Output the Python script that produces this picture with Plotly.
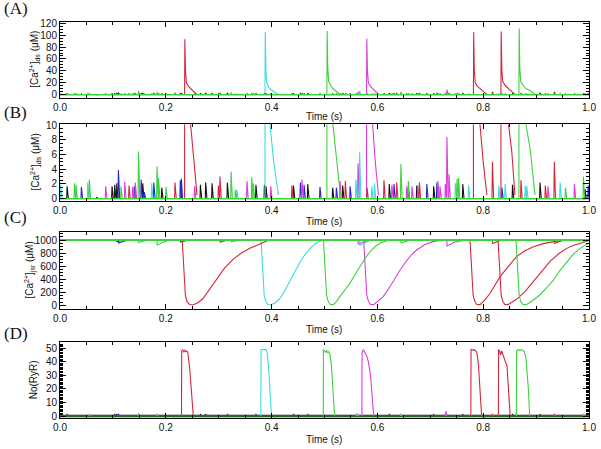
import plotly.graph_objects as go

# ---------------- data ----------------
COLORS = {"black": "#141414", "blue": "#2828c8", "red": "#d2283a",
          "cyan": "#3cdcdc", "magenta": "#dc3cdc", "green": "#3cd23c"}
DRAW_ORDER = ["black", "blue", "magenta", "cyan", "red", "green"]

# ---- big release events (sparks) ----
spark_colors = ["red", "cyan", "green", "magenta", "red", "red", "green"]

# (A)/(B) dyadic-space [Ca2+] (uM) for each spark
ds_spark_t = [
    [0.2355, 0.2360, 0.2372, 0.2390, 0.2430, 0.2470, 0.2530, 0.2590],
    [0.3875, 0.3880, 0.3892, 0.3910, 0.3940, 0.3970, 0.4040, 0.4130],
    [0.5045, 0.5050, 0.5062, 0.5080, 0.5120, 0.5160, 0.5230, 0.5300],
    [0.5795, 0.5800, 0.5812, 0.5830, 0.5870, 0.5910, 0.5960, 0.6020],
    [0.7815, 0.7820, 0.7832, 0.7850, 0.7890, 0.7940, 0.8000, 0.8070],
    [0.8335, 0.8340, 0.8352, 0.8370, 0.8420, 0.8480, 0.8540, 0.8600],
    [0.8675, 0.8680, 0.8692, 0.8710, 0.8760, 0.8810, 0.8890, 0.8980],
]
ds_spark_v = [
    [0, 93, 40, 20, 14, 10, 5.0, 0.5],
    [0, 105, 42, 20, 14, 10, 5.0, 0.5],
    [0, 107, 45, 22, 15, 10, 5.3, 0.5],
    [0, 94, 40, 20, 14, 10, 5.0, 0.5],
    [0, 105, 42, 20, 14, 10, 5.0, 0.5],
    [0, 106, 42, 22, 15, 10, 6.4, 0.5],
    [0, 111, 45, 22, 15, 10, 6.6, 0.5],
]

# (C) junctional SR [Ca2+] (uM) for each spark
jsr_spark_t = [
    [0.231, 0.233, 0.235, 0.237, 0.240, 0.245, 0.252, 0.260, 0.270, 0.283, 0.296, 0.311, 0.327, 0.343, 0.359, 0.376, 0.392],
    [0.380, 0.382, 0.384, 0.386, 0.389, 0.393, 0.399, 0.407, 0.415, 0.422, 0.432, 0.443, 0.454, 0.465, 0.476, 0.487, 0.497],
    [0.498, 0.500, 0.502, 0.504, 0.507, 0.511, 0.517, 0.523, 0.529, 0.538, 0.548, 0.557, 0.567, 0.576, 0.586, 0.596, 0.605, 0.620],
    [0.574, 0.576, 0.578, 0.580, 0.583, 0.587, 0.593, 0.601, 0.611, 0.621, 0.632, 0.643, 0.653, 0.664, 0.674, 0.690, 0.705, 0.720],
    [0.775, 0.777, 0.779, 0.781, 0.784, 0.788, 0.794, 0.803, 0.813, 0.822, 0.832, 0.848, 0.863, 0.879, 0.895, 0.914, 0.933, 0.955],
    [0.828, 0.830, 0.832, 0.834, 0.837, 0.841, 0.847, 0.855, 0.863, 0.879, 0.895, 0.910, 0.926, 0.942, 0.958, 0.971, 0.983, 0.998],
    [0.862, 0.864, 0.866, 0.868, 0.871, 0.875, 0.881, 0.890, 0.898, 0.907, 0.920, 0.933, 0.945, 0.958, 0.970, 0.983, 0.996, 1.000],
]
jsr_spark_v = [
    [1000, 700, 350, 150, 60, 12, 8, 35, 100, 250, 413, 570, 704, 800, 872, 935, 990],
    [1000, 700, 350, 150, 60, 12, 8, 40, 100, 184, 330, 500, 668, 800, 900, 965, 995],
    [1000, 700, 350, 150, 60, 12, 10, 60, 133, 230, 337, 460, 592, 710, 820, 900, 950, 995],
    [1000, 700, 350, 150, 60, 12, 10, 60, 133, 250, 400, 541, 660, 770, 847, 930, 975, 998],
    [1000, 700, 350, 150, 60, 12, 10, 80, 184, 300, 439, 600, 745, 835, 898, 945, 975, 997],
    [1000, 700, 350, 150, 60, 12, 10, 45, 92, 210, 362, 515, 668, 785, 872, 920, 949, 985],
    [1000, 700, 350, 150, 60, 12, 10, 50, 100, 158, 270, 388, 530, 668, 780, 872, 939, 955],
]

# (D) number of open RyRs for each spark
ryr_spark_t = [
    [0.2297, 0.2300, 0.2320, 0.2340, 0.2360, 0.2380, 0.2400, 0.2415, 0.2450, 0.2490, 0.2520],
    [0.3797, 0.3800, 0.3830, 0.3860, 0.3890, 0.3910, 0.3940, 0.3970, 0.4000],
    [0.4977, 0.4980, 0.5000, 0.5020, 0.5040, 0.5060, 0.5080, 0.5100, 0.5130, 0.5160, 0.5190],
    [0.5707, 0.5710, 0.5730, 0.5750, 0.5770, 0.5800, 0.5830, 0.5870, 0.5900, 0.5930],
    [0.7767, 0.7770, 0.7790, 0.7810, 0.7830, 0.7850, 0.7880, 0.7910, 0.7940, 0.7970],
    [0.8287, 0.8290, 0.8310, 0.8330, 0.8350, 0.8380, 0.8420, 0.8450, 0.8480, 0.8510],
    [0.8627, 0.8630, 0.8660, 0.8690, 0.8720, 0.8750, 0.8780, 0.8810, 0.8850, 0.8880],
]
ryr_spark_v = [
    [0, 48, 49, 47, 48.5, 47.5, 48, 47, 36, 16, 0],
    [0, 49, 49, 49, 49, 48, 38, 18, 0],
    [0, 49, 48, 47, 48.5, 46.5, 47.5, 46, 38, 20, 0],
    [0, 47, 49, 48, 46.5, 44, 40, 30, 15, 0],
    [0, 49, 49, 48.5, 49, 48, 47, 38, 18, 0],
    [0, 49, 48, 45, 48, 44, 40, 37, 18, 0],
    [0, 48, 49, 48.5, 49, 48, 47.5, 42, 22, 0],
]

# ---- small release events (blips) in [Ca2+]ds: time (s) and height (uM) ----
blip_t_black = [0.013, 0.069, 0.098, 0.103, 0.107, 0.156, 0.192, 0.265, 0.275, 0.287, 0.316, 0.370, 0.386,
                0.389, 0.441, 0.468, 0.515, 0.534, 0.622, 0.658, 0.674, 0.706, 0.761, 0.855, 0.907, 0.992]
blip_h_black = [1.7, 0.2, 1.7, 1.9, 2.1, 2.1, 1.5, 1.9, 2.2, 2.1, 2.2, 1.9, 1.9,
                1.7, 1.8, 2.0, 1.5, 1.8, 2.0, 1.5, 1.8, 1.7, 2.0, 1.9, 2.2, 1.3]
blip_t_blue = [0.040, 0.110, 0.140, 0.153, 0.159, 0.177, 0.227, 0.229, 0.454, 0.461, 0.491, 0.522,
               0.548, 0.631, 0.693, 0.712, 0.835, 0.998]
blip_h_blue = [1.6, 3.9, 1.7, 2.6, 0.9, 2.2, 2.5, 2.7, 2.2, 1.9, 1.6, 1.5,
               1.7, 2.0, 2.0, 2.2, 1.5, 1.8]
blip_t_red = [0.130, 0.217, 0.299, 0.302, 0.438, 0.539, 0.580, 0.612, 0.636, 0.679, 0.817, 0.871, 0.917, 0.934]
blip_h_red = [1.8, 2.2, 1.8, 3.0, 1.8, 2.4, 1.5, 2.5, 2.2, 2.2, 5.0, 2.5, 1.8, 5.0]
blip_t_cyan = [0.001, 0.052, 0.173, 0.334, 0.559, 0.566, 0.589, 0.594, 0.747, 0.772, 0.829, 0.841,
               0.879, 0.882, 0.945]
blip_h_cyan = [1.9, 2.2, 2.1, 1.2, 2.6, 6.3, 1.7, 2.1, 2.1, 1.8, 1.8, 2.0, 1.8, 1.7, 2.2]
blip_t_magenta = [0.086, 0.122, 0.137, 0.142, 0.254, 0.353, 0.398, 0.457, 0.529, 0.563, 0.627, 0.655,
                  0.665, 0.676, 0.714, 0.718, 0.728, 0.731, 0.735, 0.922, 0.972]
blip_h_magenta = [1.7, 2.3, 1.6, 2.2, 1.7, 2.4, 1.7, 2.6, 2.4, 4.8, 1.9, 1.7,
                  1.7, 1.8, 2.4, 1.7, 2.0, 8.4, 3.3, 1.7, 2.0]
blip_t_green = [0.027, 0.030, 0.055, 0.115, 0.148, 0.183, 0.186, 0.200, 0.323, 0.331, 0.362, 0.365,
                0.644, 0.658, 0.750, 0.753, 0.955, 0.989]
blip_h_green = [2.1, 1.9, 2.6, 1.7, 6.4, 4.4, 2.8, 1.6, 3.7, 1.2, 2.9, 2.1,
                4.7, 2.4, 2.7, 2.8, 1.5, 3.0]

# ---- small dips in [Ca2+]jsr: start time, depth (uM), recovery time ----
jsr_notch_color = ["black", "blue", "green", "green", "blue", "red", "green", "magenta", "cyan",
                   "green", "magenta", "green", "red", "red", "green"]
jsr_notch_t = [0.107, 0.110, 0.148, 0.183, 0.227, 0.302, 0.323, 0.563, 0.566,
               0.644, 0.731, 0.750, 0.817, 0.934, 0.989]
jsr_notch_depth = [25, 45, 40, 75, 30, 30, 30, 60, 80, 45, 90, 30, 55, 55, 30]
jsr_notch_end = [0.120, 0.128, 0.165, 0.205, 0.245, 0.318, 0.340, 0.585, 0.588,
                 0.662, 0.755, 0.768, 0.835, 0.952, 1.000]

# ---- small openings in No(RyR) ----
ryr_blip_color = ["black", "black", "black", "black", "black", "black", "black", "black", "black",
                  "black", "black", "black", "black", "black", "green", "green", "green", "green",
                  "green", "blue", "cyan", "magenta", "magenta", "red", "red"]
ryr_blip_t = [0.013, 0.103, 0.107, 0.265, 0.275, 0.316, 0.370, 0.441, 0.468, 0.622, 0.706, 0.761,
              0.855, 0.907, 0.055, 0.148, 0.183, 0.644, 0.989, 0.110, 0.560, 0.563, 0.729, 0.817, 0.934]
ryr_blip_n = [1, 1, 1, 1, 1, 1, 1, 1, 1, 1, 1, 1, 1, 1, 1, 2, 1.5, 1.5, 1, 1.5, 2, 1, 3.5, 1.5, 1.5]

blips = {
    "black": (blip_t_black, blip_h_black), "blue": (blip_t_blue, blip_h_blue),
    "red": (blip_t_red, blip_h_red), "cyan": (blip_t_cyan, blip_h_cyan),
    "magenta": (blip_t_magenta, blip_h_magenta), "green": (blip_t_green, blip_h_green),
}

# ---------------- figure ----------------
W, H = 601, 449
X0, X1 = 60, 589
panels = [  # top px, bottom px, y range
    dict(top=22.0, bot=97.7, rng=[-5, 122], dtick=20, minor=5, tx=35),
    dict(top=124.3, bot=200.7, rng=[-0.27, 10.1], dtick=2, minor=0.5, tx=35),
    dict(top=232.3, bot=308.7, rng=[-52, 1118], dtick=200, minor=50, tx=29),
    dict(top=342.3, bot=418.3, rng=[-1.7, 54.4], dtick=10, minor=1, tx=33),
]


def spike(t, h, base=0.0):
    return [t - 0.0004, t + 0.0004, t + 0.0028], [base, base + h, base]


def add_segments(fig, segs, color, axn, width=1.1):
    xs, ys = [], []
    for sx, sy in segs:
        xs += list(sx) + [None]
        ys += list(sy) + [None]
    if not xs:
        return
    fig.add_trace(go.Scatter(x=xs, y=ys, mode="lines", line=dict(color=COLORS[color], width=width),
                             xaxis="x" + ("" if axn == 1 else str(axn)),
                             yaxis="y" + ("" if axn == 1 else str(axn)),
                             hoverinfo="skip", showlegend=False, connectgaps=False))


fig = go.Figure()

# panels A and B: [Ca2+]ds
for axn in (1, 2):
    for c in DRAW_ORDER:
        segs = []
        bt, bh = blips[c]
        for t, h in zip(bt, bh):
            segs.append(spike(t, h))
        for k, sc in enumerate(spark_colors):
            if sc == c:
                segs.append((ds_spark_t[k], ds_spark_v[k]))
        add_segments(fig, segs, c, axn)
    add_segments(fig, [([0, 1], [0, 0])], "green", axn, width=1.6)

# panel C: [Ca2+]jsr
for c in DRAW_ORDER:
    segs = []
    for t, d, e, nc in zip(jsr_notch_t, jsr_notch_depth, jsr_notch_end, jsr_notch_color):
        if nc == c:
            segs.append(([t, t + 0.0008, e], [1000, 1000 - d, 1000]))
    for k, sc in enumerate(spark_colors):
        if sc == c:
            segs.append((jsr_spark_t[k], jsr_spark_v[k]))
    add_segments(fig, segs, c, 3)
add_segments(fig, [([0, 1], [1000, 1000])], "green", 3, width=2.0)

# panel D: No(RyR)
add_segments(fig, [([0, 1], [0, 0])], "black", 4, width=2.6)
for c in DRAW_ORDER:
    segs = []
    for t, n, bc in zip(ryr_blip_t, ryr_blip_n, ryr_blip_color):
        if bc == c:
            segs.append(spike(t, n))
    for k, sc in enumerate(spark_colors):
        if sc == c:
            segs.append((ryr_spark_t[k], ryr_spark_v[k]))
    add_segments(fig, segs, c, 4)
add_segments(fig, [([0, 1], [0, 0])], "green", 4, width=0.9)

TICKFONT = dict(family="Arial", size=10, color="#111")
layout = dict(width=W, height=H, margin=dict(l=0, r=0, t=0, b=0, autoexpand=False),
              paper_bgcolor="white", plot_bgcolor="white", showlegend=False)

for i, p in enumerate(panels, start=1):
    sfx = "" if i == 1 else str(i)
    ydom = [1 - p["bot"] / H, 1 - p["top"] / H]
    layout["xaxis" + sfx] = dict(
        domain=[X0 / W, X1 / W], anchor="y" + sfx, range=[0, 1], dtick=0.2, tick0=0,
        tickformat=".1f", ticks="inside", ticklen=5, tickwidth=1, tickcolor="black",
        showline=True, linecolor="black", linewidth=1, mirror="ticks", automargin=False,
        showgrid=False, zeroline=False, tickfont=TICKFONT,
        minor=dict(dtick=0.05, ticks="inside", ticklen=3, tickcolor="black", showgrid=False))
    layout["yaxis" + sfx] = dict(
        domain=ydom, anchor="x" + sfx, range=p["rng"], dtick=p["dtick"], tick0=0,
        ticks="inside", ticklen=6, tickwidth=1, tickcolor="black",
        showline=True, linecolor="black", linewidth=1, mirror="ticks", automargin=False,
        showgrid=False, zeroline=False, tickfont=TICKFONT,
        minor=dict(dtick=p["minor"], ticks="inside", ticklen=3, tickcolor="black", showgrid=False))

ann = []
letters = [("(A)", 9), ("(B)", 112), ("(C)", 217), ("(D)", 333)]
for txt, ypx in letters:
    ann.append(dict(text=txt, x=2 / W, y=1 - ypx / H, xref="paper", yref="paper",
                    xanchor="left", yanchor="middle", showarrow=False,
                    font=dict(family="Liberation Serif", size=17, color="#111")))
for ypx in (116, 221, 329, 439):
    ann.append(dict(text="Time (s)", x=324 / W, y=1 - ypx / H, xref="paper", yref="paper",
                    xanchor="center", yanchor="middle", showarrow=False, font=TICKFONT))
ytitles = ["[Ca<sup>2+</sup>]<sub>ds</sub> (\u03bcM)", "[Ca<sup>2+</sup>]<sub>ds</sub> (\u03bcM)",
           "[Ca<sup>2+</sup>]<sub>jsr</sub> (\u03bcM)", "No(RyR)"]
for p, t in zip(panels, ytitles):
    ann.append(dict(text=t, x=p["tx"] / W, y=1 - (p["top"] + p["bot"]) / 2 / H, xref="paper", yref="paper",
                    xanchor="center", yanchor="middle", textangle=-90, showarrow=False, font=TICKFONT))
layout["annotations"] = ann

fig.update_layout(**layout)
fig.write_html("out.html", config={"displayModeBar": False, "staticPlot": True},
               post_script="document.body.style.margin='0';")
